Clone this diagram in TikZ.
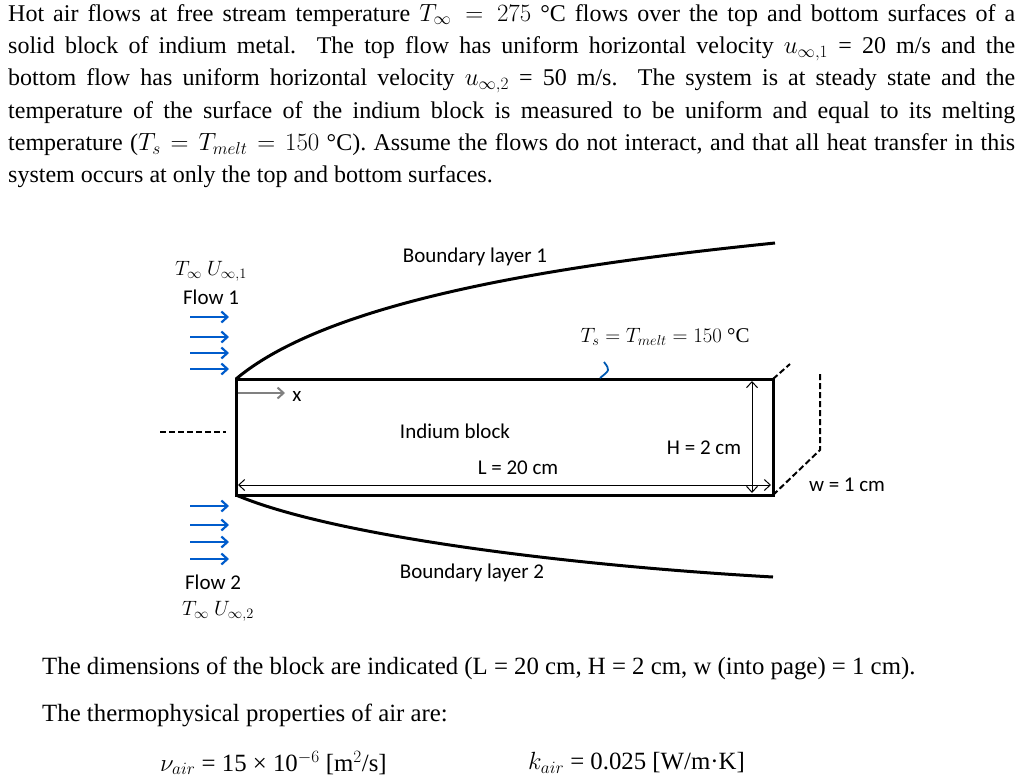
\documentclass[tikz,border=0pt]{standalone}
\usepackage{fontspec}
\setmainfont{Liberation Serif}
\newfontfamily\calfnt{Carlito}
\usetikzlibrary{arrows.meta}
\begin{document}
\begin{tikzpicture}[x=1pt,y=-1pt,
  lab/.style={font=\calfnt\fontsize{21}{23}\selectfont,inner sep=0},
  mlab/.style={font=\fontsize{21}{23}\selectfont,inner sep=0},
  body/.style={font=\fontsize{24.8}{32}\selectfont,inner sep=0,anchor=west},
  flow/.style={draw=blue!55!cyan!80!black,line width=2.2pt,-{Straight Barb[length=6pt,width=11pt]}},
  dsh/.style={line width=2pt,dash pattern=on 6pt off 3pt},
  dim/.style={draw,line width=1pt,{Straight Barb[length=6pt,width=11pt]}-{Straight Barb[length=6pt,width=11pt]}}]
\useasboundingbox (0,0) rectangle (1024,779);
\node[font=\fontsize{24}{32.3}\selectfont,text width=1007pt,align=justify,anchor=north west,inner sep=0] (para) at (8,4)
{Hot air flows at free stream temperature $T_\infty = 275$ °C flows over the top and bottom surfaces of a\linebreak solid block of indium metal. The top flow has uniform horizontal velocity $u_{\infty,1}$ = 20 m/s and the\linebreak bottom flow has uniform horizontal velocity $u_{\infty,2}$ = 50 m/s. The system is at steady state and the\linebreak temperature of the surface of the indium block is measured to be uniform and equal to its melting\linebreak temperature ($T_s = T_{melt} = 150$ °C). Assume the flows do not interact, and that all heat transfer in this\linebreak system occurs at only the top and bottom surfaces.};
% block
\coordinate (tl) at (236,379); \coordinate (tr) at (773,379);
\coordinate (bl) at (236,495); \coordinate (br) at (773,495);
\draw[line width=3pt] (tl) rectangle (br);
\draw[line width=3pt] (tl) .. controls (330,300) and (560,265) .. (775,243);
\draw[line width=3pt] (bl) .. controls (330,535) and (560,565) .. (773,577);
\coordinate (d1) at (790,364); \coordinate (d2) at (820,374); \coordinate (d3) at (820,450);
\draw[dsh] (tr) -- (d1);
\draw[dsh] (d2) -- (d3) -- (br);
\coordinate (ll) at (160,432); \coordinate (lr) at (226,432);
\draw[dsh] (ll) -- (lr);
% dims
\coordinate (la) at (238,485); \coordinate (lb) at (771,485);
\draw[dim] (la) -- (lb);
\coordinate (ha) at (752,381); \coordinate (hb) at (752,493);
\draw[dim] (ha) -- (hb);
\coordinate (xa) at (238,393); \coordinate (xb) at (285,393);
\draw[gray,line width=2pt,-{Straight Barb[length=6pt,width=11pt]}] (xa) -- (xb);
\node[lab] (xl) at (297,396) {x};
% flows
\foreach \y/\n in {317/a,337/b,353/c,369/d,506/e,525/f,542/g,559/h}{
  \coordinate (f\n s) at (190,\y); \coordinate (f\n e) at (229,\y);
  \draw[flow] (f\n s) -- (f\n e);}
% squiggle
\coordinate (sq1) at (604,362); \coordinate (sq2) at (600,378);
\draw[blue!50!cyan!70!black,line width=1.8pt] (sq1) .. controls (610,370) .. (sq2);
% labels
\node[mlab] (t1) at (211,271) {$T_\infty\ U_{\infty,1}$};
\node[lab] (fl1) at (211,297) {Flow 1};
\node[lab] (fl2) at (213,582) {Flow 2};
\node[mlab] (t2) at (218,611) {$T_\infty\ U_{\infty,2}$};
\node[lab] (bl1) at (475,257) {Boundary layer 1};
\node[lab] (bl2) at (472,573) {Boundary layer 2};
\node[mlab] (ts) at (665,337) {$T_s = T_{melt} = 150$ °C};
\node[lab] (ib) at (455,431) {Indium block};
\node[lab] (L) at (518,468) {L = 20 cm};
\node[lab] (H) at (704,448) {H = 2 cm};
\node[lab] (w) at (847,485) {w = 1 cm};
% bottom text
\node[body] (b1) at (42,668) {The dimensions of the block are indicated (L = 20 cm, H = 2 cm, w (into page) = 1 cm).};
\node[body] (b2) at (42,715) {The thermophysical properties of air are:};
\node[body] (b3) at (160,763) {$\nu_{air}$ = 15 × 10$^{-6}$ [m$^2$/s]};
\node[body] (b4) at (528,763) {$k_{air}$ = 0.025 [W/m·K]};
\end{tikzpicture}
\end{document}
